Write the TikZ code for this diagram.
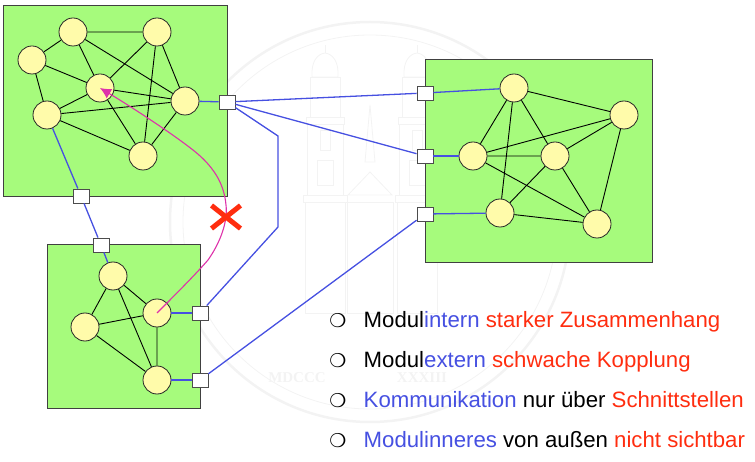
\documentclass[tikz,border=0pt]{standalone}
\usepackage{fontspec}
\setmainfont{Liberation Sans}
\newfontfamily\symfont{DejaVu Sans}
\newfontfamily\sealfont{Liberation Serif}
\usetikzlibrary{shapes.misc,arrows.meta}

\definecolor{modgreen}{RGB}{166,251,124}
\definecolor{unityellow}{RGB}{255,251,170}
\definecolor{linkblue}{RGB}{70,80,225}
\definecolor{txtred}{RGB}{255,45,15}
\definecolor{pathpink}{RGB}{222,50,170}
\definecolor{sealgray}{RGB}{243,243,243}

\tikzset{%
  % Specifications for style of nodes:
         module/.style = {rectangle, draw = black!75, line width=0.9pt, fill=modgreen, inner sep=0pt},
         unit/.style = {circle, draw = black!85, line width=0.8pt, fill=unityellow, minimum size=28pt, inner sep=0pt},
         port/.style = {rectangle, draw = black!70, line width=0.9pt, fill=white, minimum width=16pt, minimum height=14pt, inner sep=0pt},
         edge/.style = {draw=black, line width=0.9pt},
         link/.style = {draw=linkblue, line width=1.3pt},
         item/.style = {anchor=base west, inner sep=0pt, font=\fontsize{22.2}{26}\selectfont},
         dot/.style = {inner sep=0pt, font=\fontsize{19}{22}\symfont},
         seal/.style = {draw=sealgray, line width=0.8pt},
         sealtext/.style = {text=sealgray, inner sep=0pt, font=\fontsize{15}{16}\sealfont\bfseries},
  % One tower of the seal, drawn from its dome down
         tower/.pic = {
           \draw[seal] (-13,77) .. controls (-14,62) and (-8,54) .. (0,53) .. controls (8,54) and (14,62) .. (13,77) -- cycle;
           \draw[seal] (0,53) -- (0,45);
           \draw[seal] (-15,77) rectangle (15,117);
           \draw[seal] (-19,117) rectangle (19,124);
           \draw[seal] (-18,124) rectangle (18,195);
           \draw[seal] (-22,195) rectangle (22,202);
           \draw[seal] (-20,202) rectangle (20,313);
           \draw[seal] (-8,160) rectangle (8,185);
           \draw[seal] (-5,130) rectangle (5,150);
         },
}

\begin{document}
\begin{tikzpicture}[x=1pt, y=-1pt]
    \useasboundingbox (0,0) rectangle (755,462);

    % Seal in the background
    \node (sealrim)  [circle, seal, line width=2.5pt, minimum size=400pt] at (370,222) {};
    \node (sealcore) [circle, seal, minimum size=374pt] at (370,222) {};
    \pic at (325,0) {tower};
    \pic at (417,0) {tower};
    \draw[seal] (370,105) -- (365,162) -- (375,162) -- cycle;
    \draw[seal] (348,195) -- (370,172) -- (392,195) -- cycle;
    \draw[seal] (347,202) rectangle (393,313);
    \node (sealyearA) [sealtext] at (297,378) {MDCCC};
    \node (sealyearB) [sealtext] at (422,378) {XXXIII};

    % Draw modules
    \node (modA) [module, minimum width=224pt, minimum height=191pt] at (115,100.5) {};
    \node (modB) [module, minimum width=153pt, minimum height=164pt] at (123.5,326) {};
    \node (modC) [module, minimum width=227pt, minimum height=203pt] at (538.5,160.5) {};

    % Draw units
    \node (a1) [unit] at (73,32)   {};
    \node (a2) [unit] at (157,32)  {};
    \node (a3) [unit] at (32,60)   {};
    \node (a4) [unit] at (100,88)  {};
    \node (a5) [unit] at (47,115)  {};
    \node (a6) [unit] at (185,101) {};
    \node (a7) [unit] at (143,156) {};

    \node (b1) [unit] at (113,276) {};
    \node (b2) [unit] at (85,327)  {};
    \node (b3) [unit] at (157,313) {};
    \node (b4) [unit] at (157,380) {};

    \node (c1) [unit] at (514,88)  {};
    \node (c2) [unit] at (624,115) {};
    \node (c3) [unit] at (473,156) {};
    \node (c4) [unit] at (555,156) {};
    \node (c5) [unit] at (500,213) {};
    \node (c6) [unit] at (597,224) {};

    % Draw ports
    \node (pa1) [port] at (81,196)  {};
    \node (pa2) [port] at (227,102) {};
    \node (pb1) [port] at (101,245) {};
    \node (pb2) [port] at (200,313) {};
    \node (pb3) [port] at (200,380) {};
    \node (pc1) [port] at (425,93)  {};
    \node (pc2) [port] at (425,156) {};
    \node (pc3) [port] at (425,214) {};

    \coordinate (bendup)  at (278,136);
    \coordinate (benddn)  at (278,227);

    % Draw edges
    \draw[edge] (a1) -- (a2)  (a1) -- (a3)  (a1) -- (a4)  (a1) -- (a6);
    \draw[edge] (a2) -- (a4)  (a2) -- (a6)  (a2) -- (a7);
    \draw[edge] (a3) -- (a4)  (a3) -- (a5);
    \draw[edge] (a4) -- (a5)  (a4) -- (a6)  (a4) -- (a7);
    \draw[edge] (a5) -- (a6)  (a5) -- (a7)  (a6) -- (a7);

    \draw[edge] (b1) -- (b2)  (b1) -- (b3)  (b1) -- (b4);
    \draw[edge] (b2) -- (b3)  (b2) -- (b4)  (b3) -- (b4);

    \draw[edge] (c1) -- (c2)  (c1) -- (c3)  (c1) -- (c4)  (c1) -- (c5);
    \draw[edge] (c2) -- (c3)  (c2) -- (c4)  (c2) -- (c6);
    \draw[edge] (c3) -- (c4)  (c3) -- (c6);
    \draw[edge] (c4) -- (c5)  (c4) -- (c6)  (c5) -- (c6);

    % Draw links
    \draw[link] (a5) -- (pa1);
    \draw[link] (pa1) -- (pb1);
    \draw[link] (pb1) -- (b1);
    \draw[link] (a6) -- (pa2);
    \draw[link] (pa2) -- (pc1);
    \draw[link] (pa2) -- (pc2);
    \draw[link] (pa2) -- (bendup) -- (benddn) -- (pb2);
    \draw[link] (b3) -- (pb2);
    \draw[link] (b4) -- (pb3);
    \draw[link] (pb3) -- (pc3);
    \draw[link] (pc1) -- (c1);
    \draw[link] (pc2) -- (c3);
    \draw[link] (pc3) -- (c5);

    % Draw forbidden access
    \draw[draw=pathpink, line width=1.1pt, -{Latex[length=11pt,width=11pt]}] (b3.center)
        .. controls (175,295) and (195,275) .. (208,260)
        .. controls (220,243) and (228,222) .. (226,205)
        .. controls (224,182) and (212,165) .. (193,150)
        .. controls (170,132) and (130,106) .. (a4.center);
    \node (nogo) [cross out, draw=txtred, line width=5pt, minimum width=24pt, minimum height=18pt, inner sep=0pt] at (226,217) {};

    % Draw list
    \node (d1) [dot] at (338,321) {❍};
    \node (d2) [dot] at (338,361) {❍};
    \node (d3) [dot] at (338,401) {❍};
    \node (d4) [dot] at (338,441) {❍};
    \node (t1) [item] at (363.5,327) {Modul\textcolor{linkblue}{intern} \textcolor{txtred}{starker Zusammenhang}};
    \node (t2) [item] at (363.5,367) {Modul\textcolor{linkblue}{extern} \textcolor{txtred}{schwache Kopplung}};
    \node (t3) [item] at (363.5,407) {\textcolor{linkblue}{Kommunikation} nur über \textcolor{txtred}{Schnittstellen}};
    \node (t4) [item] at (363.5,447) {\textcolor{linkblue}{Modulinneres} von außen \textcolor{txtred}{nicht sichtbar}};
\end{tikzpicture}
\end{document}
